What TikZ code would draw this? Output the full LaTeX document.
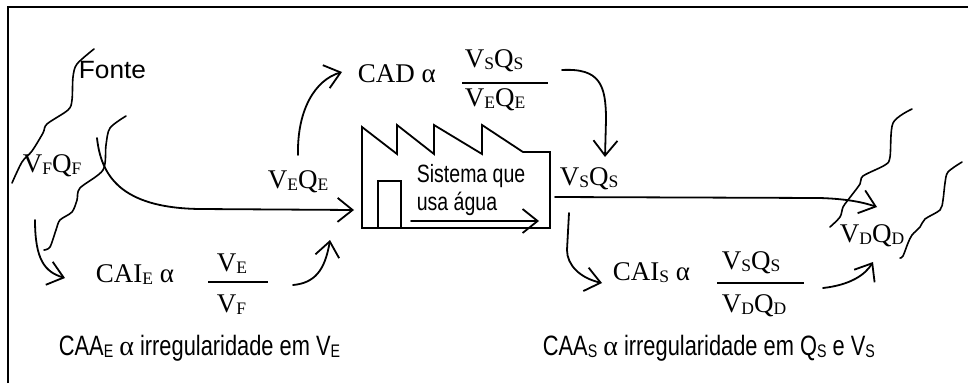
\documentclass[tikz,border=0pt]{standalone}
\usepackage{fontspec}
\setmainfont{Liberation Serif}
\newfontfamily\fontesf{Liberation Sans}[FakeStretch=1.05]
\newfontfamily\narrowsf{Liberation Sans}[FakeStretch=0.78]
\usetikzlibrary{arrows.meta}
\newcommand{\lo}[1]{\raisebox{-2pt}{\scalebox{0.65}{#1}}}

\begin{document}
\begin{tikzpicture}[x=1pt, y=-1pt, line width=1.8pt]
        \tikzstyle{every node}=[inner sep=0pt, anchor=base west]
        \tikzstyle{txt}=[font=\fontsize{27}{31}\selectfont]
        \tikzstyle{bar}=[line width=1.6pt]
        \tikzstyle{flow}=[-{Straight Barb[length=15pt,width=24pt]}, line cap=round, line join=round]
        \tikzstyle{river}=[line width=1.6pt, line cap=round]
        \useasboundingbox (0,0) rectangle (968,383);
        % frame
        \draw[line width=2.2pt] (8,383) -- (8,7) -- (968,7);
        % labels
        \node (fonte) [font=\fontesf\fontsize{25}{29}\selectfont] at (78,78) {Fonte};
        \node (vfqf) [txt] at (22,172) {V\lo{F}Q\lo{F}};
        \node (veqe) [txt] at (267,188) {V\lo{E}Q\lo{E}};
        \node (vsqs) [txt] at (559,185) {V\lo{S}Q\lo{S}};
        \node (vdqd) [txt] at (839,242) {V\lo{D}Q\lo{D}};
        % CAD
        \node (cad) [txt] at (357,82) {CAD α};
        \node (cadnum) [txt] at (464,67) {V\lo{S}Q\lo{S}};
        \node (cadden) [txt] at (464,106) {V\lo{E}Q\lo{E}};
        \draw[bar] (462,83) -- (548,83);
        % CAI entrada
        \node (caie) [txt] at (95,282) {CAI\lo{E} α};
        \node (caienum) [txt] at (216,271) {V\lo{E}};
        \node (caieden) [txt] at (216,312) {V\lo{F}};
        \draw[bar] (208,282) -- (268,282);
        % CAI saida
        \node (cais) [txt] at (612,280) {CAI\lo{S} α};
        \node (caisnum) [txt] at (721,269) {V\lo{S}Q\lo{S}};
        \node (caisden) [txt] at (721,312) {V\lo{D}Q\lo{D}};
        \draw[bar] (717,283) -- (804,283);
        % CAA
        \node (caae) [font=\narrowsf\fontsize{28}{32}\selectfont] at (58,355) {CAA\lo{E} {\rmfamily α} irregularidade em V\lo{E}};
        \node (caas) [font=\narrowsf\fontsize{28}{32}\selectfont] at (542,355) {CAA\lo{S} {\rmfamily α} irregularidade em Q\lo{S} e V\lo{S}};
        % fabrica
        \draw (362,228) -- (362,127) -- (397,154) -- (397,125) -- (434,154) -- (434,125) -- (482,154) -- (482,125) -- (523,152) -- (550,152) -- (550,228) -- cycle;
        \draw (378,228) rectangle (401,181);
        \node (sist1) [font=\narrowsf\fontsize{25}{29}\selectfont] at (416,182) {Sistema que};
        \node (sist2) [font=\narrowsf\fontsize{25}{29}\selectfont] at (416,210) {usa água};
        \coordinate (rin) at (411,221);
        \coordinate (rout) at (539,221);
        \draw[flow] (rin) -- (rout);
        % rios
        \draw[river] plot[smooth] coordinates {(12,183) (22,162) (32,151) (43,133) (47,124) (68,110) (72,100) (73,77) (77,64) (94,49)};
        \draw[river] plot[smooth] coordinates {(126,116) (110,128) (106,145) (103,170) (80,188) (77,200) (72,212) (60,220) (56,230) (50,247) (44,250)};
        \draw[river] plot[smooth] coordinates {(912,109) (893,123) (890,157) (885,165) (863,176) (860,184) (848,200) (843,207) (840,217) (830,227)};
        \draw[river] plot[smooth] coordinates {(962,162) (948,172) (945,183) (943,200) (940,210) (925,219) (920,227) (912,235) (908,243) (903,256) (900,258)};
        % fluxos
        \coordinate (capta) at (97,138);
        \coordinate (entra) at (354,210);
        \coordinate (veup) at (298,155);
        \coordinate (cadin) at (342,72);
        \coordinate (cadout) at (562,70);
        \coordinate (vsin) at (605,157);
        \coordinate (sai) at (555,197);
        \coordinate (vdin) at (877,207);
        \coordinate (fdown) at (35,220);
        \coordinate (caiein) at (65,278);
        \coordinate (caieout) at (293,285);
        \coordinate (fabin) at (330,240);
        \coordinate (sdown) at (569,213);
        \coordinate (caisin) at (602,283);
        \coordinate (caisout) at (823,288);
        \coordinate (vdin2) at (873,262);
        \draw[flow] (capta) .. controls (101,175) and (120,208) .. (200,209) -- (entra);
        \draw[flow] (veup) .. controls (297,110) and (315,80) .. (cadin);
        \draw[flow] (cadout) .. controls (600,68) and (606,85) .. (606,120) -- (vsin);
        \draw[flow] (sai) -- (820,198) .. controls (850,199) and (865,203) .. (vdin);
        \draw[flow] (fdown) .. controls (35,260) and (45,272) .. (caiein);
        \draw[flow] (caieout) .. controls (315,283) and (325,270) .. (fabin);
        \draw[flow] (sdown) -- (567,250) .. controls (567,265) and (580,278) .. (caisin);
        \draw[flow] (caisout) .. controls (850,285) and (865,275) .. (vdin2);
\end{tikzpicture}
\end{document}
